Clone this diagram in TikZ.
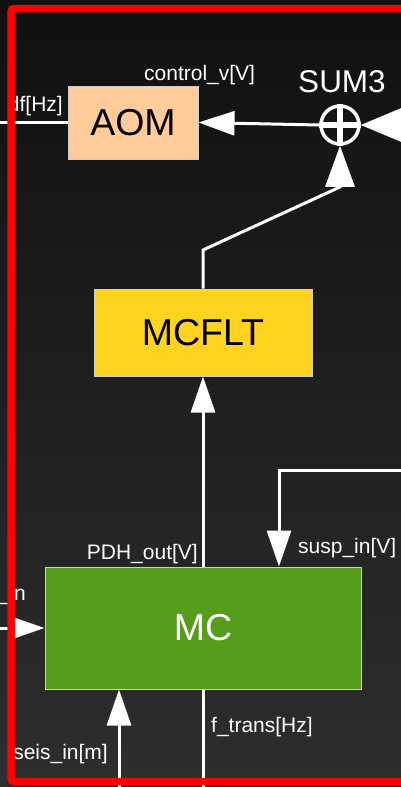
\documentclass[tikz,border=0pt]{standalone}
\usepackage{fontspec}
\setmainfont{Liberation Sans}
\usetikzlibrary{arrows.meta}
\definecolor{bgtop}{RGB}{16,16,16}
\definecolor{bgbot}{RGB}{46,46,46}
\definecolor{aomfill}{RGB}{255,204,153}
\definecolor{fltfill}{RGB}{255,211,32}
\definecolor{mcfill}{RGB}{87,157,28}
\definecolor{edgegray}{RGB}{205,205,205}
\definecolor{framered}{RGB}{255,0,0}

\begin{document}
\begin{tikzpicture}[x=1pt,y=-1pt,
  wire/.style={white, line width=3pt},
  tipbig/.style={-{Triangle[length=36pt,width=24pt]}},
  tipsum/.style={-{Triangle[length=41pt,width=29pt]}},
  tipright/.style={-{Triangle[length=44pt,width=36pt]}},
  block/.style={draw=edgegray, line width=1pt, inner sep=0pt, font=\fontsize{37.5}{40}\selectfont},
  sig/.style={text=white, inner sep=0pt, font=\fontsize{21}{24}\selectfont},
]
\useasboundingbox (0,0) rectangle (401,787);
\clip (0,0) rectangle (401,787);
% dark vertical gradient behind everything
\shade[top color=bgtop, bottom color=bgbot] (0,0) rectangle (401,787);

% blocks
\node[block, fill=aomfill, minimum width=130pt, minimum height=73pt] (aom) at (133,122.5) {AOM};
\node[block, fill=fltfill, minimum width=218pt, minimum height=87pt] (mcflt) at (203,332.5) {MCFLT};
\node[block, fill=mcfill, text=white, minimum width=316pt, minimum height=122pt] (mc) at (203,628) {MC};

% summing junction
\node[circle, draw=white, line width=3.5pt, minimum size=38pt, inner sep=0pt] (sum) at (340,125) {};
\draw[white, line width=5.5pt] (sum.north) -- (sum.south) (sum.west) -- (sum.east);

% connectors
\coordinate (aomout) at (-10,122.5);
\draw[wire] (aom.west) -- (aomout);
\draw[wire, tipbig] (sum.west) -- (aom.east);
\coordinate (sumin) at (430,125);
\draw[wire, tipright] (sumin) -- (sum.east);
\coordinate (k1) at (203,250);
\coordinate (k2) at (340,187);
\draw[wire, tipsum] (mcflt.north) -- (k1) -- (k2) -- (sum.south);
\draw[wire, tipbig] (mc.north) -- (mcflt.south);
\coordinate (suspsrc) at (430,470);
\coordinate (suspbend) at (279,470);
\draw[wire, tipbig] (suspsrc) -- (suspbend) -- (suspbend |- mc.north);
\coordinate (mcin) at (-10,628);
\draw[wire, tipbig] (mcin) -- (mc.west);
\coordinate (seissrc) at (119,800);
\draw[wire, tipbig] (seissrc) -- (seissrc |- mc.south);
\coordinate (ftout) at (203,800);
\draw[wire] (mc.south) -- (ftout);

% signal labels
\node[sig, anchor=base west] (lctl) at (144,80) {control\_v[V]};
\node[sig, anchor=base east] (ldf) at (63,111) {df[Hz]};
\node[text=white, inner sep=0pt, anchor=base, font=\fontsize{31.5}{34}\selectfont] (lsum) at (342,92) {SUM3};
\node[sig, anchor=base east] (lpdh) at (198,559) {PDH\_out[V]};
\node[sig, anchor=base west] (lsusp) at (298,553) {susp\_in[V]};
\node[sig, anchor=base east] (lin) at (26,600) {\_in};
\node[sig, anchor=base west] (lft) at (211,732) {f\_trans[Hz]};
\node[sig, anchor=base east] (lseis) at (108,759) {seis\_in[m]};

% red frame on top
\draw[framered, line width=7.5pt, rounded corners=3pt] (430,781.5) -- (11,781.5) -- (11,8.5) -- (430,8.5);
\end{tikzpicture}
\end{document}
